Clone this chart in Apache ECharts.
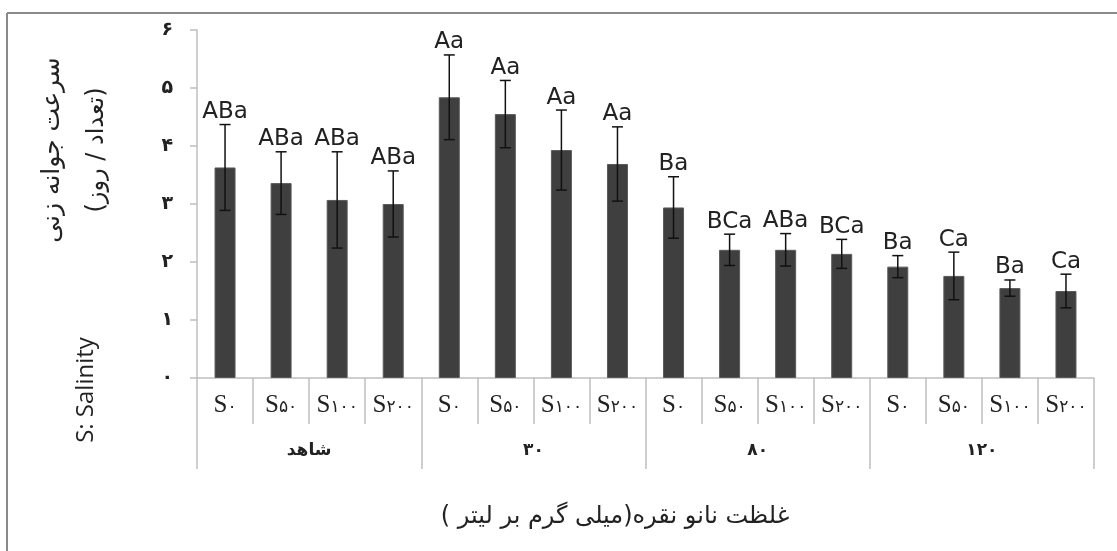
<!DOCTYPE html>
<html>
<head>
<meta charset="utf-8">
<script src="https://cdn.jsdelivr.net/npm/echarts@6/dist/echarts.min.js"></script>
<style>
  html, body { margin: 0; padding: 0; background: #fff; }
  #chart { width: 1117px; height: 551px; }
</style>
</head>
<body>
<div id="chart"></div>
<script>
// salinity levels inside each nano-silver group
const salinityLabels = ['S۰', 'S۵۰', 'S۱۰۰', 'S۲۰۰'];
const groupLabels = ['شاهد', '۳۰', '۸۰', '۱۲۰'];
const yTickLabels = ['۰', '۱', '۲', '۳', '۴', '۵', '۶'];

const values = [3.63, 3.36, 3.07, 3.00, 4.84, 4.55, 3.93, 3.69, 2.94, 2.21, 2.21, 2.14, 1.92, 1.76, 1.55, 1.50];
const errors = [0.74, 0.54, 0.83, 0.57, 0.73, 0.58, 0.69, 0.64, 0.53, 0.27, 0.28, 0.25, 0.19, 0.41, 0.14, 0.29];
const letters = ['ABa', 'ABa', 'ABa', 'ABa', 'Aa', 'Aa', 'Aa', 'Aa', 'Ba', 'BCa', 'ABa', 'BCa', 'Ba', 'Ca', 'Ba', 'Ca'];

const categories = [];
groupLabels.forEach(() => salinityLabels.forEach(s => categories.push(s)));

const chart = echarts.init(document.getElementById('chart'));

const gridColor = '#bfbfbf';

const option = {
  backgroundColor: '#fff',
  animation: false,
  grid: { left: 197, right: 23, top: 30, bottom: 173 },
  xAxis: [
    {
      type: 'category',
      data: categories,
      axisLine: { show: true, lineStyle: { color: gridColor, width: 1.5 } },
      axisTick: { show: true, interval: 0, length: 46, lineStyle: { color: gridColor, width: 1.5 } },
      axisLabel: {
        interval: 0,
        margin: 15,
        formatter: v => '{s|S}{d|' + v.slice(1) + '}',
        rich: {
          s: { fontFamily: 'Liberation Serif', fontSize: 25, color: '#222' },
          d: { fontFamily: 'DejaVu Sans', fontSize: 17, color: '#222', padding: [5, 0, 0, 0] }
        }
      }
    },
    {
      type: 'category',
      data: groupLabels,
      position: 'bottom',
      axisLine: { show: false },
      axisTick: { show: true, interval: 0, length: 91, lineStyle: { color: gridColor, width: 1.5 } },
      axisLabel: {
        interval: 0,
        margin: 64,
        fontFamily: 'DejaVu Sans',
        fontSize: 17,
        fontWeight: 'bold',
        color: '#222'
      }
    }
  ],
  yAxis: {
    type: 'value',
    min: 0,
    max: 6,
    interval: 1,
    axisLine: { show: true, lineStyle: { color: gridColor, width: 1.5 } },
    axisTick: { show: true, length: 7, lineStyle: { color: gridColor, width: 1.5 } },
    splitLine: { show: false },
    axisLabel: {
      margin: 24,
      fontFamily: 'DejaVu Sans',
      fontSize: 19,
      fontWeight: 'bold',
      color: '#222',
      formatter: v => yTickLabels[Math.round(v)]
    }
  },
  series: [
    {
      type: 'bar',
      data: values,
      barWidth: 21,
      itemStyle: { color: '#3f3f3f', borderColor: '#5a5a5a', borderWidth: 1 }
    },
    {
      type: 'custom',
      data: values.map((v, i) => [i, v, errors[i]]),
      z: 5,
      renderItem: (params, api) => {
        const i = api.value(0);
        const v = api.value(1);
        const e = api.value(2);
        const top = api.coord([i, v + e]);
        const bot = api.coord([i, v - e]);
        const w = 5.5;
        const ls = { stroke: '#111', lineWidth: 1.5 };
        return {
          type: 'group',
          children: [
            { type: 'line', shape: { x1: top[0], y1: top[1], x2: bot[0], y2: bot[1] }, style: ls },
            { type: 'line', shape: { x1: top[0] - w, y1: top[1], x2: top[0] + w, y2: top[1] }, style: ls },
            { type: 'line', shape: { x1: bot[0] - w, y1: bot[1], x2: bot[0] + w, y2: bot[1] }, style: ls },
            {
              type: 'text',
              style: {
                text: letters[params.dataIndex],
                x: top[0],
                y: top[1] - 1,
                align: 'center',
                verticalAlign: 'bottom',
                fontFamily: 'DejaVu Sans',
                fontSize: 23,
                fill: '#222'
              }
            }
          ]
        };
      }
    }
  ],
  graphic: [
    { type: 'line', shape: { x1: 7, y1: 13, x2: 1117, y2: 13 }, style: { stroke: '#8a8a8a', lineWidth: 2 } },
    { type: 'line', shape: { x1: 7, y1: 13, x2: 7, y2: 551 }, style: { stroke: '#8a8a8a', lineWidth: 2 } },
    {
      type: 'text', x: 52, y: 150, rotation: Math.PI / 2,
      style: { text: 'سرعت جوانه زنی', align: 'center', verticalAlign: 'middle', fontFamily: 'DejaVu Sans', fontSize: 25, fill: '#222' }
    },
    {
      type: 'text', x: 97, y: 150, rotation: Math.PI / 2,
      style: { text: '(تعداد / روز)', align: 'center', verticalAlign: 'middle', fontFamily: 'DejaVu Sans', fontSize: 24, fill: '#222' }
    },
    {
      type: 'text', x: 86, y: 390, rotation: Math.PI / 2,
      style: { text: 'S: Salinity', align: 'center', verticalAlign: 'middle', fontFamily: 'Open Sans', fontSize: 24, fill: '#222' }
    },
    {
      type: 'text', x: 615, y: 517,
      style: { text: 'غلظت نانو نقره(میلی گرم بر لیتر )', align: 'center', verticalAlign: 'middle', fontFamily: 'DejaVu Sans', fontSize: 24, fill: '#222' }
    }
  ]
};

chart.setOption(option);
</script>
</body>
</html>
